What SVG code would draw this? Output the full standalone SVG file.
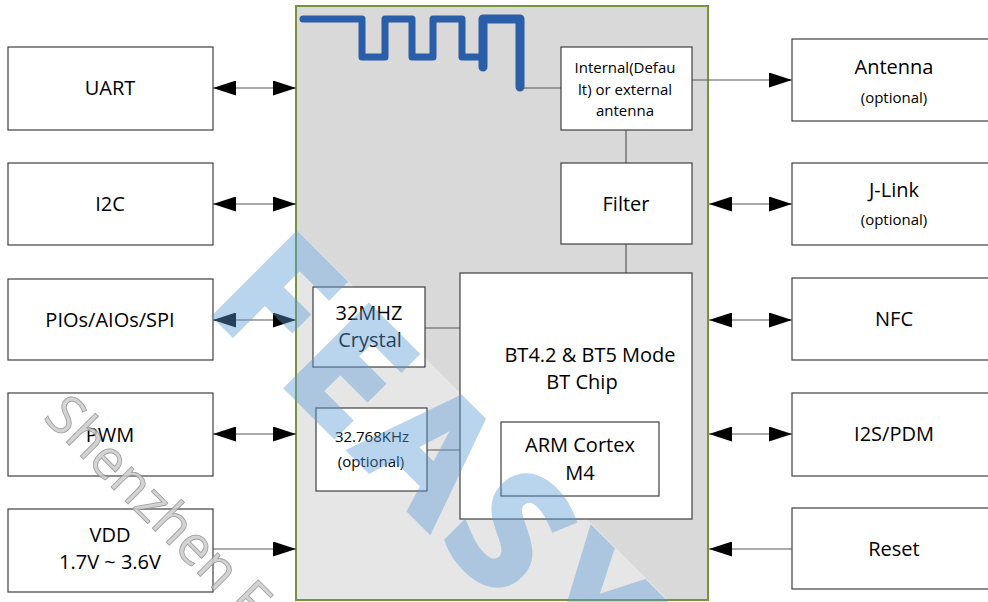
<svg xmlns="http://www.w3.org/2000/svg" width="988" height="602" viewBox="0 0 988 602">
<defs>
<style>
.box{fill:#ffffff;stroke:#404040;stroke-width:1.2}
.t{font-family:"Open Sans","Noto Sans","Liberation Sans",sans-serif;font-size:20px;fill:#000;text-anchor:middle}
.s{font-family:"Open Sans","Noto Sans","Liberation Sans",sans-serif;font-size:15px;fill:#000;text-anchor:middle}
.c{stroke:#595959;stroke-width:1.2;fill:none}
.dbl{marker-start:url(#ah);marker-end:url(#ah)}
.one{marker-end:url(#ah)}
</style>
<marker id="ah" markerUnits="userSpaceOnUse" markerWidth="23" markerHeight="15" refX="23" refY="7.5" orient="auto-start-reverse" viewBox="0 0 23 15">
<path d="M0,0 L23,7.5 L0,15 z" fill="#000"/>
</marker>
</defs>
<rect width="988" height="602" fill="#ffffff"/>

<g id="module">
<rect x="296" y="6" width="412" height="594" fill="#d9d9d9" stroke="#77933c" stroke-width="2"/>
<polygon points="297,230 667,599 297,599" fill="#ffffff" opacity="0.35"/>
<g id="trace" fill="none" stroke="#2a5ea8" stroke-linecap="round" stroke-linejoin="round">
<path d="M303,19 H362 V57 H385 V19 H412 V57 H433 V19 H462 V57 H483" stroke-width="7"/>
<path d="M483,67 V19 H520 V87" stroke-width="9"/>
</g>
</g>

<g id="connectors">
<line class="c" x1="519" y1="88" x2="561" y2="88"/>
<line class="c" x1="626" y1="130" x2="626" y2="163"/>
<line class="c" x1="626" y1="244" x2="626" y2="273"/>
<line class="c" x1="425" y1="328" x2="460" y2="328"/>
<line class="c" x1="427" y1="450" x2="460" y2="450"/>
<line class="c dbl" x1="213" y1="88" x2="296" y2="88"/>
<line class="c dbl" x1="213" y1="204" x2="296" y2="204"/>
<line class="c dbl" x1="213" y1="320" x2="296" y2="320"/>
<line class="c dbl" x1="213" y1="434" x2="296" y2="434"/>
<line class="c one" x1="213" y1="549" x2="296" y2="549"/>
<line class="c one" x1="692" y1="80" x2="792" y2="80"/>
<line class="c dbl" x1="709" y1="204" x2="792" y2="204"/>
<line class="c dbl" x1="709" y1="320" x2="792" y2="320"/>
<line class="c dbl" x1="709" y1="434" x2="792" y2="434"/>
<line class="c one" x1="792" y1="549" x2="709" y2="549"/>
</g>

<g id="uart"><rect class="box" x="8" y="47" width="205" height="83"/><text class="t" x="110" y="95">UART</text></g>
<g id="i2c"><rect class="box" x="8" y="163" width="205" height="82"/><text class="t" x="110" y="211">I2C</text></g>
<g id="pios"><rect class="box" x="8" y="279" width="205" height="81"/><text class="t" x="110" y="327">PIOs/AIOs/SPI</text></g>
<g id="pwm"><rect class="box" x="8" y="393" width="205" height="83"/><text class="t" x="110" y="442">PWM</text></g>
<g id="vdd"><rect class="box" x="8" y="509" width="205" height="83"/><text class="t" x="110" y="542">VDD</text><text class="t" x="110" y="569">1.7V ~ 3.6V</text></g>

<g id="antenna"><rect class="box" x="792" y="39" width="204" height="82"/><text class="t" x="894" y="74">Antenna</text><text class="s" x="894" y="103">(optional)</text></g>
<g id="jlink"><rect class="box" x="792" y="163" width="204" height="82"/><text class="t" x="894" y="197">J-Link</text><text class="s" x="894" y="225">(optional)</text></g>
<g id="nfc"><rect class="box" x="792" y="278" width="204" height="82"/><text class="t" x="894" y="326">NFC</text></g>
<g id="i2s"><rect class="box" x="792" y="393" width="204" height="83"/><text class="t" x="894" y="441">I2S/PDM</text></g>
<g id="reset"><rect class="box" x="792" y="508" width="204" height="81"/><text class="t" x="894" y="556">Reset</text></g>

<g id="antsel"><rect class="box" x="561" y="47" width="131" height="83"/><text class="s" x="625" y="73">Internal(Defau</text><text class="s" x="625" y="95">lt) or external</text><text class="s" x="625" y="116">antenna</text></g>
<g id="filter"><rect class="box" x="561" y="163" width="131" height="81"/><text class="t" x="626" y="211">Filter</text></g>
<g id="btchip"><rect class="box" x="460" y="273" width="232" height="246"/><text class="t" x="590" y="362">BT4.2 &amp; BT5 Mode</text><text class="t" x="582" y="389">BT Chip</text></g>
<g id="arm"><rect class="box" x="501" y="422" width="158" height="74"/><text class="t" x="580" y="452">ARM Cortex</text><text class="t" x="580" y="480">M4</text></g>
<g id="xtal32m"><rect class="box" x="313" y="287" width="112" height="80"/><text class="t" x="369" y="320">32MHZ</text><text class="t" x="370" y="347">Crystal</text></g>
<g id="xtal32k"><rect class="box" x="316" y="408" width="111" height="83"/><text class="s" x="372" y="442">32.768KHz</text><text class="s" x="371" y="467">(optional)</text></g>

<g id="watermark">
<text transform="translate(206,306) rotate(45)" font-family="Open Sans, sans-serif" font-weight="bold" font-size="160" fill="#5b9bd5" stroke="#5b9bd5" stroke-width="7" stroke-linejoin="miter" opacity="0.42" letter-spacing="14">FEASY</text>
<text transform="translate(42,418) rotate(45)" font-family="Open Sans, sans-serif" font-size="54" fill="#cccccc" stroke="#8c8c8c" stroke-width="0.8" opacity="0.85">Shenzhen F</text>
</g>
</svg>
